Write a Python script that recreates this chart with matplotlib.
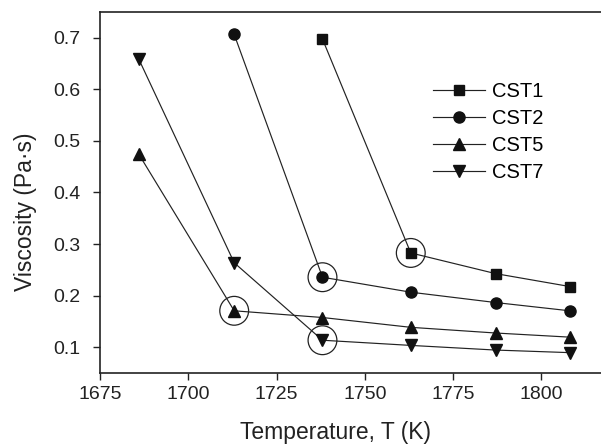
import numpy as np
import matplotlib.pyplot as plt

plt.rcParams['font.family'] = ['Liberation Sans', 'DejaVu Sans']

# viscosity vs temperature for the four slags
t_cst1 = [1738, 1763, 1787, 1808]
v_cst1 = [0.697, 0.283, 0.243, 0.218]

t_cst2 = [1713, 1738, 1763, 1787, 1808]
v_cst2 = [0.706, 0.236, 0.207, 0.187, 0.171]

t_cst5 = [1686, 1713, 1738, 1763, 1787, 1808]
v_cst5 = [0.474, 0.171, 0.158, 0.139, 0.128, 0.120]

t_cst7 = [1686, 1713, 1738, 1763, 1787, 1808]
v_cst7 = [0.658, 0.264, 0.114, 0.104, 0.095, 0.090]

# break points marked with open circles
t_break = [1763, 1738, 1713, 1738]
v_break = [0.283, 0.236, 0.171, 0.114]

fig = plt.figure(figsize=(6.01, 4.46), dpi=100)
ax = fig.add_axes([100 / 601, 1 - 373.3 / 446, 505 / 601, (373.3 - 11.7) / 446])

lw = 0.85
col = '#222222'
ax.plot(t_cst1, v_cst1, '-s', color=col, lw=lw, ms=7, mfc='#111111', mec='#111111', label='CST1')
ax.plot(t_cst2, v_cst2, '-o', color=col, lw=lw, ms=8, mfc='#111111', mec='#111111', label='CST2')
ax.plot(t_cst5, v_cst5, '-^', color=col, lw=lw, ms=9, mfc='#111111', mec='#111111', label='CST5')
ax.plot(t_cst7, v_cst7, '-v', color=col, lw=lw, ms=9, mfc='#111111', mec='#111111', label='CST7')

ax.scatter(t_break, v_break, s=430, facecolors='none', edgecolors=col, linewidths=0.9, zorder=5)

ax.set_xlim(1675, 1818)
ax.set_ylim(0.05, 0.75)
ax.set_xticks([1675, 1700, 1725, 1750, 1775, 1800])
ax.set_yticks([0.1, 0.2, 0.3, 0.4, 0.5, 0.6, 0.7])
ax.set_yticklabels(['0.1', '0.2', '0.3', '0.4', '0.5', '0.6', '0.7'])

ax.spines['right'].set_visible(False)
for s in ['left', 'bottom', 'top']:
    ax.spines[s].set_linewidth(1.2)
    ax.spines[s].set_color('#222222')
ax.tick_params(direction='out', length=5, width=1.0, labelsize=14, colors='#222222')
ax.tick_params(axis='y', pad=9)
ax.tick_params(axis='x', pad=4)

ax.set_xlabel('Temperature, T (K)', fontsize=16.5, color='#222222')
ax.set_ylabel('Viscosity (Pa·s)', fontsize=16.5, color='#222222')
ax.xaxis.set_label_coords((336 - 100) / 505, -0.133)
ax.yaxis.set_label_coords(-0.125, 0.446)

ax.legend(loc='upper left', bbox_to_anchor=((423 - 100) / 505, 1 - (72 - 11.7) / 361.6),
          frameon=False, fontsize=14.5, handlelength=2.6, handletextpad=0.35,
          labelspacing=0.4, borderpad=0)

fig.savefig('out.png', dpi=100)
